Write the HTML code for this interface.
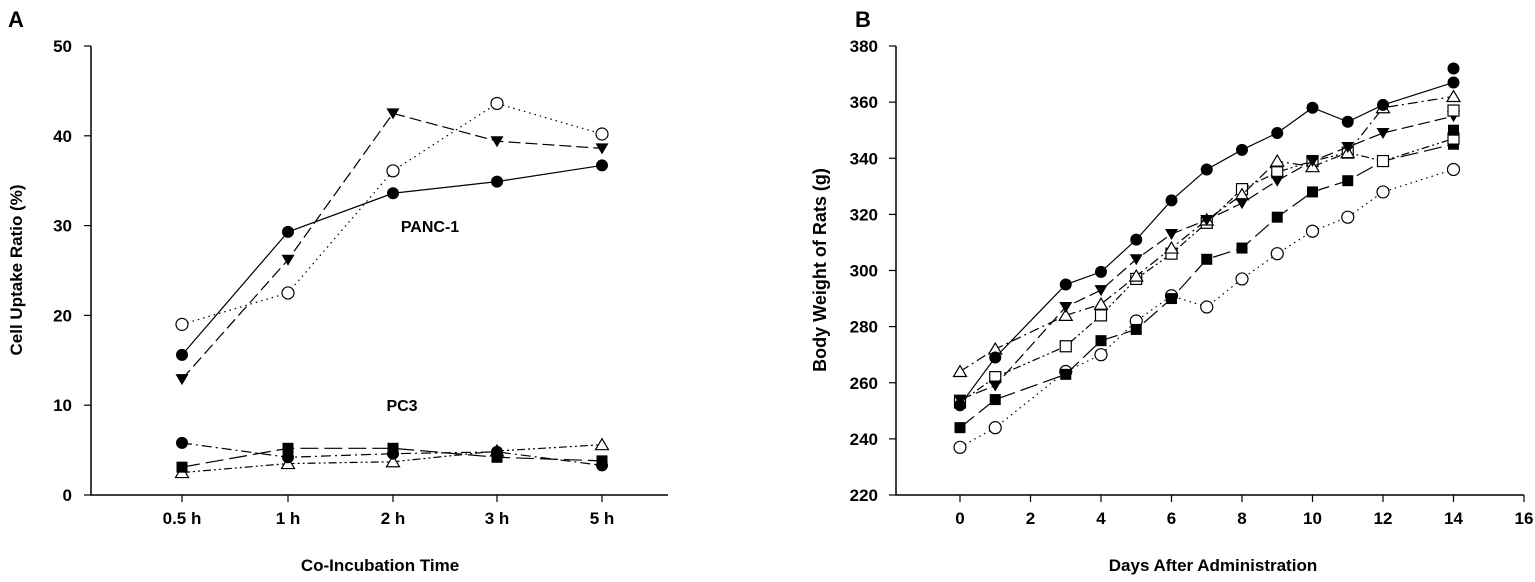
<!DOCTYPE html>
<html><head><meta charset="utf-8"><style>
html,body{margin:0;padding:0;background:#fff;}
svg{display:block;font-family:"Liberation Sans",Arial,sans-serif;font-weight:bold;}
</style></head><body>
<svg id="s" width="1535" height="582" xmlns="http://www.w3.org/2000/svg">
<rect width="1535" height="582" fill="#fff"/>
<text x="8" y="27" font-size="22">A</text>
<text x="855" y="27" font-size="22">B</text>
<g stroke="#000" stroke-width="1.5" fill="none">
<path d="M91,46 V495 H668"/>
<path d="M896,46 V495 H1524"/>
</g>
<g id="ticks" stroke="#000" stroke-width="1.2"></g>
<g id="labels" font-size="17" fill="#000"></g>
<text x="380" y="571" font-size="17" text-anchor="middle">Co-Incubation Time</text>
<text x="1213" y="571" font-size="17" text-anchor="middle">Days After Administration</text>
<text transform="translate(22,270) rotate(-90)" font-size="17" text-anchor="middle">Cell Uptake Ratio (%)</text>
<text transform="translate(826,270) rotate(-90)" font-size="18" text-anchor="middle">Body Weight of Rats (g)</text>
<text x="430" y="232" font-size="16" text-anchor="middle">PANC-1</text>
<text x="402" y="411" font-size="16" text-anchor="middle">PC3</text>
<g id="data"></g>
</svg>
<script>
const NS="http://www.w3.org/2000/svg";
const el=(t,a,p)=>{const e=document.createElementNS(NS,t);for(const k in a)e.setAttribute(k,a[k]);(p||document.getElementById('data')).appendChild(e);return e;};
const T=document.getElementById('ticks'),L=document.getElementById('labels');
const ay=v=>495-v*8.98;
[0,10,20,30,40,50].forEach(v=>{el('line',{x1:91,x2:84,y1:ay(v),y2:ay(v)},T);const t=el('text',{x:72,y:ay(v)+6,'text-anchor':'end'},L);t.textContent=v;});
const ax=[182,288,393,497,602],an=['0.5 h','1 h','2 h','3 h','5 h'];
ax.forEach((x,i)=>{el('line',{x1:x,x2:x,y1:495,y2:502},T);const t=el('text',{x:x,y:524,'text-anchor':'middle'},L);t.textContent=an[i];});
const bx=d=>960+d*35.25, by=v=>495-(v-220)*449/160;
for(let v=220;v<=380;v+=20){el('line',{x1:896,x2:889,y1:by(v),y2:by(v)},T);const t=el('text',{x:878,y:by(v)+6,'text-anchor':'end'},L);t.textContent=v;}
for(let d=0;d<=16;d+=2){el('line',{x1:bx(d),x2:bx(d),y1:495,y2:502},T);const t=el('text',{x:bx(d),y:524,'text-anchor':'middle'},L);t.textContent=d;}
const dash={solid:'',dot:'1.5,4',dash:'12,5',dashdot:'10,4,2,4',dd2:'8,3,2,3,2,3',long:'18,6'};
function mark(x,y,m){const r=6;
 if(m==='fc')el('circle',{cx:x,cy:y,r:r,fill:'#000'});
 if(m==='oc')el('circle',{cx:x,cy:y,r:r,fill:'#fff',stroke:'#000','stroke-width':1.2});
 if(m==='ft')el('path',{d:`M${x-6.5},${y-5} H${x+6.5} L${x},${y+6} Z`,fill:'#000'});
 if(m==='ot')el('path',{d:`M${x-6.5},${y+5} H${x+6.5} L${x},${y-6} Z`,fill:'#fff',stroke:'#000','stroke-width':1.2});
 if(m==='fs')el('rect',{x:x-5.5,y:y-5.5,width:11,height:11,fill:'#000'});
 if(m==='os')el('rect',{x:x-5.5,y:y-5.5,width:11,height:11,fill:'#fff',stroke:'#000','stroke-width':1.2});
}
function series(xs,ys,m,ls){el('polyline',{points:xs.map((x,i)=>x+','+ys[i]).join(' '),fill:'none',stroke:'#000','stroke-width':1.2,'stroke-dasharray':dash[ls]});xs.forEach((x,i)=>mark(x,ys[i],m));}
const A=[
 [[2.5,3.5,3.7,4.9,5.6],'ot','dd2'],
 [[3.1,5.2,5.2,4.2,3.8],'fs','long'],
 [[5.8,4.2,4.6,4.8,3.3],'fc','dashdot'],
 [[19,22.5,36.1,43.6,40.2],'oc','dot'],
 [[12.9,26.2,42.5,39.4,38.6],'ft','dash'],
 [[15.6,29.3,33.6,34.9,36.7],'fc','solid'],
];
A.forEach(s=>series(ax,s[0].map(ay),s[1],s[2]));
const D=[0,1,3,4,5,6,7,8,9,10,11,12,14];
const B=[
 [[237,244,264,270,282,291,287,297,306,314,319,328,336],'oc','dot'],
 [[244,254,263,275,279,290,304,308,319,328,332,339,345],'fs','long'],
 [[253,262,273,284,297,306,317,329,335,339,342,339,347],'os','dd2'],
 [[264,272,284,288,298,308,318,327,339,337,342,358,362],'ot','dashdot'],
 [[254,259,287,293,304,313,318,324,332,339,344,349,355],'ft','dash'],
 [[252,269,295,299.5,311,325,336,343,349,358,353,359,367],'fc','solid'],
];
B.forEach(s=>series(D.map(bx),s[0].map(by),s[1],s[2]));
mark(bx(14),by(372),'fc');mark(bx(14),by(357),'os');mark(bx(14),by(350),'fs');
</script>
</body></html>
